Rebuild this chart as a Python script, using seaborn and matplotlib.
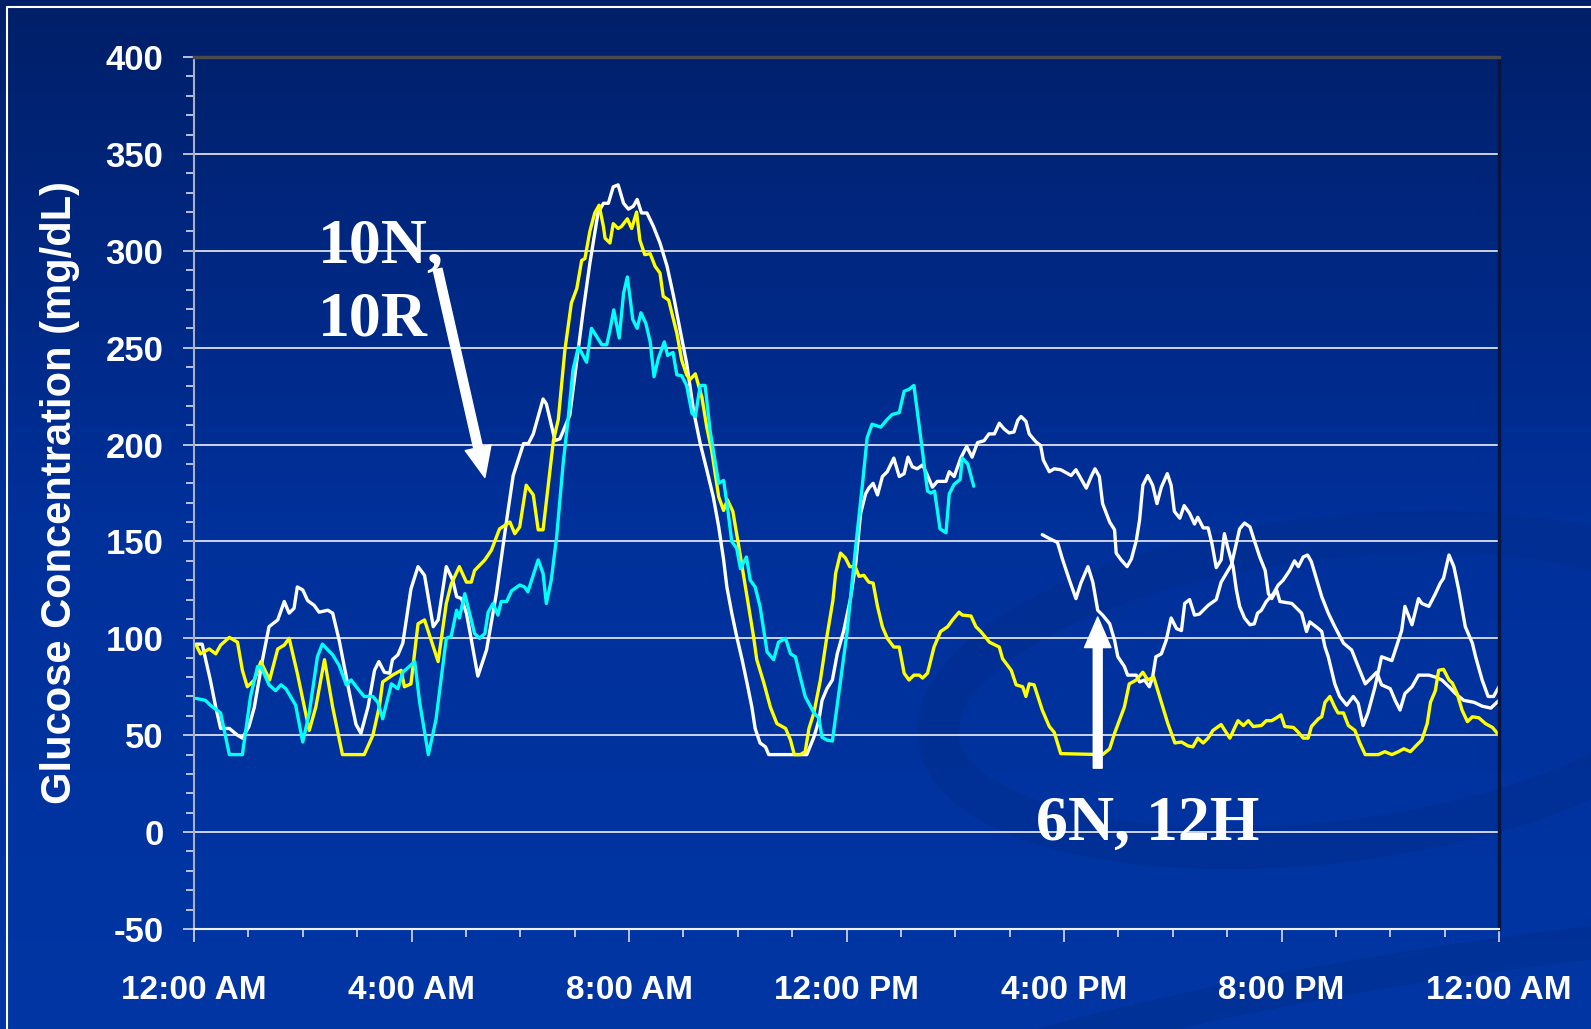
import numpy as np
import pandas as pd
import matplotlib.pyplot as plt
from matplotlib.colors import LinearSegmentedColormap
from matplotlib.lines import Line2D
from matplotlib.patches import Ellipse
from matplotlib.ticker import MultipleLocator
import seaborn as sns

# hours after midnight / glucose in mg/dL
yellow_hours = [0.04, 0.12, 0.28, 0.40, 0.49, 0.65, 0.80, 0.89, 0.98, 1.11, 1.23, 1.39, 1.54, 1.66, 1.75, 1.90,
                2.03, 2.12, 2.24, 2.40, 2.55, 2.73, 3.13, 3.29, 3.41, 3.47, 3.65, 3.81, 3.87, 3.99, 4.12, 4.24,
                4.49, 4.64, 4.73, 4.88, 5.01, 5.10, 5.16, 5.35, 5.47, 5.62, 5.81, 5.90, 5.99, 6.11, 6.24, 6.33,
                6.42, 6.61, 6.70, 6.82, 6.94, 7.04, 7.13, 7.19, 7.28, 7.37, 7.45, 7.53, 7.56, 7.65, 7.71, 7.80,
                7.86, 7.97, 8.05, 8.14, 8.20, 8.29, 8.39, 8.48, 8.57, 8.63, 8.73, 8.88, 8.97, 9.06, 9.12, 9.22,
                9.34, 9.43, 9.52, 9.65, 9.74, 9.81, 9.91, 10.01, 10.11, 10.20, 10.29, 10.35, 10.48, 10.60, 10.72,
                10.88, 10.97, 11.04, 11.15, 11.24, 11.31, 11.40, 11.52, 11.64, 11.75, 11.80, 11.89, 11.98, 12.06,
                12.16, 12.23, 12.32, 12.41, 12.49, 12.57, 12.66, 12.75, 12.87, 12.97, 13.06, 13.15, 13.24, 13.34,
                13.40, 13.49, 13.61, 13.73, 13.86, 13.95, 14.07, 14.13, 14.29, 14.38, 14.47, 14.63, 14.81, 14.87,
                15.03, 15.12, 15.24, 15.30, 15.36, 15.45, 15.60, 15.73, 15.82, 15.94, 16.71, 16.84, 16.93, 17.11,
                17.20, 17.33, 17.45, 17.54, 17.65, 17.79, 17.91, 18.04, 18.16, 18.28, 18.37, 18.46, 18.56, 18.65,
                18.74, 18.89, 19.05, 19.20, 19.30, 19.39, 19.48, 19.63, 19.72, 19.82, 19.91, 19.99, 20.06, 20.22,
                20.31, 20.40, 20.49, 20.55, 20.68, 20.74, 20.80, 20.89, 20.98, 21.04, 21.14, 21.23, 21.35, 21.44,
                21.54, 21.78, 21.90, 22.03, 22.15, 22.25, 22.37, 22.49, 22.58, 22.68, 22.74, 22.83, 22.89, 22.98,
                23.08, 23.14, 23.23, 23.32, 23.42, 23.51, 23.63, 23.75, 23.88, 24.0]
yellow_mgdl = [96.5, 92, 94.5, 92, 96.5, 100.5, 98, 83.5, 75, 78.5, 88, 78.5, 94.5, 96.5, 100, 82,
               64.5, 52.5, 64.5, 89, 64.5, 40, 40, 50, 65, 77.5, 81, 83.5, 75, 76.5, 107.5, 109.5,
               88, 118, 128, 137, 129, 129, 135, 140.5, 145.5, 156.5, 160, 154, 157.5, 179, 174, 156,
               156, 202, 213, 248.5, 273, 280.5, 295, 296, 310, 319.5, 323.5, 312.5, 306.5, 304, 314, 311.5,
               312.5, 316.5, 311.5, 320, 305.5, 298, 298.5, 292, 288.5, 276.5, 274.5, 257.5, 243.5, 236, 233.5, 236.5,
               224.5, 209, 197, 173, 166, 171.5, 165.5, 149, 132, 116.5, 101, 89, 77, 64.5, 56,
               53.5, 47.5, 40, 40, 41.5, 53.5, 61.5, 78.5, 101, 119.5, 133.5, 144, 141.5, 137,
               137, 132, 132.5, 129, 128.5, 116.5, 106, 100, 95.5, 95.5, 82, 78.5, 81, 81,
               79.5, 82, 95.5, 103.5, 106, 109.5, 113.5, 112, 111.5, 106, 103.5, 98, 95.5, 89.5,
               83.5, 76, 75, 70, 76.5, 76, 63, 54.5, 51.5, 40.5, 40, 43, 51, 64.5,
               76.5, 78.5, 82.5, 78.5, 80, 67, 56, 46, 46.5, 44.5, 44, 48.5, 46, 48.5,
               52.5, 55.5, 48.5, 57.5, 55, 57.5, 54.5, 55, 57.5, 57.5, 59, 60.5, 54.5, 54,
               51.5, 48.5, 48.5, 54.5, 58.5, 59.5, 67, 70, 64.5, 61.5, 61.5, 55, 52.5, 46,
               40, 40, 41.5, 40, 41.5, 43, 41.5, 45, 47.5, 56, 67, 73, 83.5, 84,
               78.5, 77, 71.5, 63, 57, 59.5, 59, 56, 54, 50]

cyan_hours = [0.04, 0.21, 0.30, 0.49, 0.65, 0.89, 1.04, 1.17, 1.23, 1.38, 1.50, 1.60, 1.69, 1.87, 2.00, 2.12,
              2.27, 2.36, 2.55, 2.67, 2.80, 2.89, 3.04, 3.13, 3.29, 3.38, 3.47, 3.63, 3.75, 3.84, 4.06, 4.15,
              4.31, 4.45, 4.64, 4.73, 4.83, 4.88, 4.98, 5.16, 5.25, 5.35, 5.41, 5.50, 5.59, 5.65, 5.75, 5.84,
              5.99, 6.08, 6.14, 6.33, 6.42, 6.48, 6.57, 6.67, 6.79, 6.88, 6.97, 7.07, 7.22, 7.31, 7.50, 7.59,
              7.65, 7.72, 7.82, 7.90, 7.97, 8.07, 8.15, 8.22, 8.31, 8.39, 8.46, 8.54, 8.65, 8.71, 8.81, 8.88,
              8.97, 9.06, 9.16, 9.22, 9.31, 9.40, 9.49, 9.65, 9.74, 9.81, 9.89, 9.98, 10.05, 10.16, 10.23, 10.32,
              10.41, 10.54, 10.66, 10.75, 10.88, 10.97, 11.06, 11.15, 11.24, 11.40, 11.49, 11.55, 11.64, 11.74,
              11.86, 12.01, 12.17, 12.29, 12.38, 12.47, 12.63, 12.75, 12.84, 12.97, 13.06, 13.15, 13.24, 13.37,
              13.49, 13.55, 13.62, 13.72, 13.83, 13.89, 13.98, 14.09, 14.13, 14.23, 14.34]
cyan_mgdl = [69, 68, 65.5, 61.5, 40, 40, 70, 85.5, 85.5, 76, 73, 76, 74, 65.5, 46.5, 61.5,
             90.5, 97, 91.5, 86, 76, 78.5, 73, 70, 70, 67, 58.5, 76.5, 74, 82.5, 88, 67,
             40, 58, 100, 101, 114.5, 110.5, 123, 102.5, 100, 102.5, 113.5, 118, 112, 119, 119, 124.5,
             127.5, 126.5, 124, 140.5, 133.5, 118, 130, 152.5, 190.5, 213, 238.5, 250.5, 242.5, 260, 251.5, 251.5,
             259, 269.5, 255, 278, 286.5, 264.5, 260, 268, 262.5, 253, 235, 244.5, 253, 246, 247.5, 236,
             235.5, 230.5, 216, 214.5, 230.5, 230.5, 207.5, 180, 181.5, 168, 150, 146.5, 136, 142, 130, 126.5,
             116.5, 93, 89, 98, 100, 92, 90.5, 80, 70, 61.5, 59, 49, 47.5, 47,
             72, 103, 147.5, 178.5, 203.5, 210.5, 209, 213, 215.5, 216.5, 227.5, 228.5, 230.5, 202.5,
             176, 175, 176, 156.5, 154.5, 174.5, 179.5, 182, 193, 190, 178.5]

white_day_hours = [0.04, 0.15, 0.30, 0.40, 0.49, 0.65, 0.80, 0.89, 1.01, 1.11, 1.26, 1.38, 1.54, 1.66, 1.75, 1.84,
                   1.90, 2.00, 2.09, 2.21, 2.30, 2.46, 2.55, 2.67, 2.86, 2.98, 3.07, 3.20, 3.32, 3.40, 3.50, 3.60,
                   3.65, 3.75, 3.84, 3.99, 4.12, 4.24, 4.40, 4.49, 4.64, 4.76, 4.83, 4.92, 5.01, 5.07, 5.22, 5.38,
                   5.56, 5.75, 5.87, 6.06, 6.15, 6.24, 6.42, 6.48, 6.64, 6.73, 6.91, 7.04, 7.16, 7.28, 7.43, 7.53,
                   7.62, 7.71, 7.80, 7.90, 7.99, 8.08, 8.15, 8.23, 8.33, 8.45, 8.57, 8.70, 8.82, 8.94, 9.06, 9.19,
                   9.31, 9.43, 9.55, 9.65, 9.74, 9.80, 9.89, 9.98, 10.08, 10.17, 10.26, 10.32, 10.41, 10.51, 10.57,
                   11.27, 11.40, 11.49, 11.55, 11.64, 11.74, 11.83, 11.95, 12.07, 12.17, 12.26, 12.35, 12.41, 12.49,
                   12.57, 12.66, 12.75, 12.87, 12.97, 13.06, 13.13, 13.21, 13.30, 13.40, 13.49, 13.58, 13.67, 13.83,
                   13.89, 13.98, 14.10, 14.21, 14.31, 14.41, 14.53, 14.62, 14.72, 14.81, 14.90, 14.99, 15.08, 15.15,
                   15.21, 15.30, 15.36, 15.48, 15.57, 15.62, 15.73, 15.82, 15.94, 16.07, 16.13, 16.22, 16.31, 16.41,
                   16.50, 16.57, 16.65, 16.71, 16.84, 16.93, 16.96, 17.05, 17.16, 17.24, 17.33, 17.39, 17.45, 17.54,
                   17.63, 17.71, 17.79, 17.90, 17.97, 18.03, 18.13, 18.21, 18.31, 18.40, 18.46, 18.56, 18.65, 18.72,
                   18.80, 18.89, 18.95, 19.01, 19.11, 19.17, 19.23, 19.32, 19.42, 19.50, 19.56, 19.63, 19.72, 19.85,
                   19.94, 20.03, 20.15, 20.24, 20.31, 20.40, 20.48, 20.55, 20.65, 20.74, 20.86, 20.98, 21.14, 21.29,
                   21.41, 21.54, 21.63, 21.75, 21.84, 22.00, 22.09, 22.18, 22.27, 22.40, 22.52, 22.71, 22.83, 22.95,
                   23.08, 23.20, 23.35, 23.54, 23.69, 23.85, 24.0]
white_day_mgdl = [97, 97, 78.5, 64.5, 53.5, 53.5, 50, 48.5, 54.5, 64.5, 89, 106, 109.5, 119, 113, 115.5,
                  126.5, 125, 119.5, 117, 113.5, 114.5, 113, 99, 71.5, 55.5, 51, 64.5, 83.5, 88, 82.5, 82,
                  89, 91.5, 97.5, 125.5, 137, 132.5, 106, 109.5, 137, 130, 121.5, 120.5, 113, 104, 80.5, 94,
                  123, 161, 184, 200.5, 200.5, 205.5, 223.5, 221, 202, 203, 215, 243.5, 269.5, 293.5, 319.5, 324.5,
                  324.5, 333, 334, 324.5, 321.5, 323, 326.5, 319.5, 319.5, 312.5, 304, 292, 276.5, 259, 242, 217,
                  200.5, 187, 173, 157.5, 140.5, 126.5, 113, 101, 89, 77, 64.5, 53.5, 46, 44, 40,
                  40, 49, 57.5, 68, 74, 78.5, 92, 104, 120, 138.5, 164.5, 174.5, 177.5, 180,
                  174, 183.5, 186, 193, 183.5, 185, 193.5, 188.5, 187.5, 189.5, 184, 178, 181, 181,
                  186, 183.5, 193, 199, 193.5, 201, 202, 205.5, 205.5, 211, 208, 206, 206.5, 212.5,
                  214.5, 212, 205.5, 201.5, 199.5, 192, 186, 187.5, 187, 185, 184, 187, 182.5, 177.5,
                  183.5, 187.5, 183.5, 169.5, 160, 156, 144, 140.5, 137, 141, 150.5, 161, 179, 184,
                  179, 169.5, 178, 185, 179, 165.5, 162, 168.5, 164.5, 159, 162.5, 157, 157, 149,
                  136.5, 140.5, 154, 147, 137, 125, 116.5, 110.5, 107, 107.5, 113, 114.5, 119, 123,
                  127.5, 130, 135, 140, 137, 142, 143, 139.5, 130, 121.5, 113, 106, 97.5, 94,
                  85.5, 76.5, 79, 82.5, 76, 74, 68, 63, 71.5, 75, 81, 81, 80, 78.5,
                  75, 71.5, 68, 67, 65, 64, 68]

white_late_hours = [15.60, 15.73, 15.88, 15.97, 16.10, 16.22, 16.31, 16.44, 16.53, 16.62, 16.71, 16.84, 16.93, 16.99,
                    17.11, 17.17, 17.33, 17.39, 17.48, 17.57, 17.63, 17.69, 17.79, 17.88, 17.97, 18.07, 18.16, 18.22,
                    18.31, 18.40, 18.49, 18.65, 18.80, 18.89, 19.08, 19.23, 19.32, 19.42, 19.50, 19.60, 19.70, 19.76,
                    19.82, 19.91, 19.97, 20.19, 20.37, 20.46, 20.52, 20.68, 20.74, 20.80, 20.86, 20.98, 21.07, 21.20,
                    21.32, 21.41, 21.50, 21.59, 21.72, 21.84, 22.03, 22.21, 22.27, 22.40, 22.52, 22.58, 22.71, 22.83,
                    22.92, 22.98, 23.08, 23.17, 23.26, 23.38, 23.51, 23.57, 23.69, 23.80, 23.90, 24.0]
white_late_mgdl = [153.5, 151.5, 149.5, 141, 130, 120.5, 128.5, 137, 129, 114.5, 112, 107.5, 99, 90.5,
                   85.5, 81, 81, 77.5, 78.5, 75, 80, 90.5, 92, 99, 110.5, 105, 104, 118,
                   120, 112, 112.5, 117, 120, 129, 138, 156.5, 159.5, 157.5, 150.5, 142, 135, 123,
                   120.5, 125, 119, 118, 113, 103.5, 108.5, 105, 103.5, 95.5, 90.5, 76.5, 70, 65.5,
                   70, 66.5, 55, 61.5, 75, 90.5, 88.5, 104, 116.5, 107, 120.5, 118, 116.5, 123,
                   128.5, 131, 143, 137, 125, 106, 97.5, 90.5, 78.5, 70, 70, 75]

hour_ticks = [0, 4, 8, 12, 16, 20, 24]
hour_labels = ['12:00 AM', '4:00 AM', '8:00 AM', '12:00 PM', '4:00 PM', '8:00 PM', '12:00 AM']

sns.set_theme(style="ticks")
plt.rcParams['font.family'] = ['Liberation Sans', 'DejaVu Sans']
plt.rcParams['axes.unicode_minus'] = False

W, H = 1591, 1029
fig = plt.figure(figsize=(W / 100, H / 100), dpi=100)

# slide background: vertical blue gradient with faint swooshes
bg = fig.add_axes([0, 0, 1, 1], zorder=-10)
grad = np.linspace(0, 1, 256).reshape(-1, 1)
bg_cmap = LinearSegmentedColormap.from_list('bg', ['#001f68', '#00309a', '#0036a4'])
bg.imshow(grad, aspect='auto', cmap=bg_cmap, extent=[0, 1, 0, 1], origin='upper')
bg.add_patch(Ellipse((1330 / W, 1 - 690 / H), 800 / W, 300 / H, angle=14, fill=False,
                     edgecolor='#002a80', lw=30, alpha=0.3))
bg.add_patch(Ellipse((1450 / W, 1 - 1090 / H), 1500 / W, 250 / H, angle=14, fill=False,
                     edgecolor='#002a80', lw=24, alpha=0.35))
bg.set_xlim(0, 1)
bg.set_ylim(0, 1)
bg.axis('off')
# thin white frame of the slide
fig.add_artist(Line2D([7 / W, 1], [1 - 7 / H, 1 - 7 / H], color='white', lw=1.5))
fig.add_artist(Line2D([7 / W, 7 / W], [0, 1 - 7 / H], color='white', lw=1.5))

ax = fig.add_axes([194 / W, 1 - 929 / H, (1499 - 194) / W, (929 - 57) / H])
ax.set_facecolor('none')

series = [
    (white_day_hours, white_day_mgdl, '#ffffff'),
    (white_late_hours, white_late_mgdl, '#ffffff'),
    (yellow_hours, yellow_mgdl, '#ffff00'),
    (cyan_hours, cyan_mgdl, '#00ffff'),
]
for hrs, vals, col in series:
    df = pd.DataFrame({'hour': hrs, 'glucose': vals})
    sns.lineplot(data=df, x='hour', y='glucose', ax=ax, color=col, lw=2.4,
                 estimator=None, sort=False)

ax.set_xlim(0, 24)
ax.set_ylim(-50, 400)
ax.set_xticks(hour_ticks)
ax.set_xticklabels(hour_labels)
ax.xaxis.set_minor_locator(MultipleLocator(1))
ax.set_yticks(range(-50, 401, 50))
ax.yaxis.set_minor_locator(MultipleLocator(10))
ax.yaxis.grid(True, color='#f0f0f0', lw=1.2)
ax.xaxis.grid(False)
ax.set_xlabel('')
ax.set_ylabel('Glucose Concentration (mg/dL)', color='white', fontsize=30, fontweight='bold')
ax.yaxis.set_label_coords(-0.087, 0.5)

ax.tick_params(axis='both', which='both', direction='out', color='#c8cde0', width=1.3)
ax.tick_params(axis='y', which='major', length=8, pad=14, labelsize=25, labelcolor='white')
ax.tick_params(axis='y', which='minor', length=6)
ax.tick_params(axis='x', which='major', length=9, pad=24, labelsize=24, labelcolor='white')
ax.tick_params(axis='x', which='minor', length=6)
for lab in ax.get_xticklabels() + ax.get_yticklabels():
    lab.set_fontweight('bold')

ax.spines['left'].set_color('#a8b0c8')
ax.spines['left'].set_linewidth(1.5)
ax.spines['bottom'].set_color('#f0f0f0')
ax.spines['bottom'].set_linewidth(1.5)
ax.spines['top'].set_color('#4a4a4a')
ax.spines['top'].set_linewidth(2.5)
ax.spines['right'].set_color('#0a1640')
ax.spines['right'].set_linewidth(2.5)

# callouts
serif = ['Liberation Serif', 'DejaVu Serif']
ax.text(2.27, 294, '10N,', color='white', fontsize=46, fontweight='bold', family=serif, va='baseline')
ax.text(2.27, 256.5, '10R', color='white', fontsize=46, fontweight='bold', family=serif, va='baseline')
ax.text(15.48, -4, '6N, 12H', color='white', fontsize=46, fontweight='bold', family=serif, va='baseline')
arrow_style = 'simple,head_width=0.95,head_length=1.1,tail_width=0.32'
ax.annotate('', xy=(5.35, 183), xytext=(4.48, 290.5),
            arrowprops=dict(arrowstyle=arrow_style, mutation_scale=20, color='white', shrinkA=0, shrinkB=0))
ax.annotate('', xy=(16.62, 111), xytext=(16.62, 33),
            arrowprops=dict(arrowstyle=arrow_style, mutation_scale=20, color='white', shrinkA=0, shrinkB=0))

fig.savefig('out.png', dpi=100)
